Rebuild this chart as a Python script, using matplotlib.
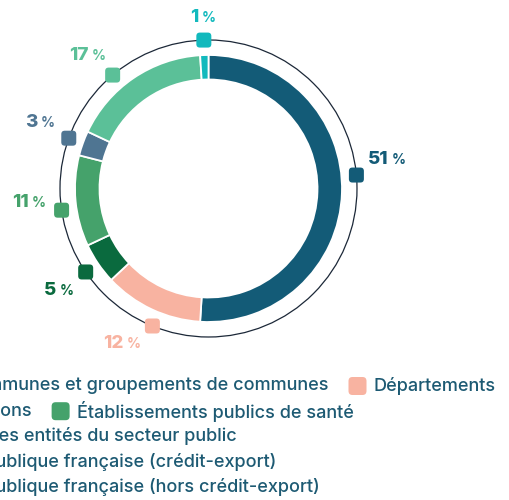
import matplotlib
matplotlib.use("Agg")
import matplotlib.pyplot as plt
from matplotlib.patches import Circle, FancyBboxPatch
from matplotlib.offsetbox import TextArea, HPacker, AnnotationBbox
import numpy as np

plt.rcParams["font.family"] = ["Inter", "DejaVu Sans"]

categories = [
    "Communes et groupements de communes",
    "Départements",
    "Régions",
    "Établissements publics de santé",
    "Autres entités du secteur public",
    "République française (crédit-export)",
    "République française (hors crédit-export)",
]
values = [51, 12, 5, 11, 3, 17, 1]
colors = ["#135b77", "#f8b3a1", "#0a6a3e", "#45a26b", "#4f7592", "#5bc098", "#12b9bd"]
legend_rows = [[0, 1], [2, 3], [4], [5], [6]]

W, H = 510, 500
fig = plt.figure(figsize=(W / 100, H / 100), dpi=100)
ax = fig.add_axes([0, 0, 1, 1])

cx, cy = 208.5, H - 188.5
r_out, ring_w = 133.5, 24.5
R = 148.5

ax.pie(values, colors=colors, startangle=90, counterclock=False, radius=r_out,
       center=(cx, cy), wedgeprops=dict(width=ring_w, edgecolor="white", linewidth=1.3))
ax.add_patch(Circle((cx, cy), R, fill=False, ec="#1c2838", lw=0.9, zorder=2))

marker_nudge = {0: -7, 1: -3, 3: -3, 5: -6}
label_nudge = {0: -11, 1: 4, 3: 1, 4: 1.5, 5: -8}

cum = np.cumsum(values)
total = float(sum(values))
for i, v in enumerate(values):
    mid = 360.0 * (cum[i] - v / 2.0) / total
    th = np.deg2rad(mid + marker_nudge.get(i, 0))
    mx, my = cx + R * np.sin(th), cy + R * np.cos(th)
    ax.add_patch(FancyBboxPatch((mx - 7.5, my - 7.5), 15, 15,
                                boxstyle="round,pad=0,rounding_size=3.5",
                                fc=colors[i], ec="none", zorder=4))
    tl = np.deg2rad(mid + label_nudge.get(i, 0))
    rl = 162.5 + 17 * abs(np.sin(tl)) + 8 * abs(np.cos(tl))
    lx, ly = cx + rl * np.sin(tl), cy + rl * np.cos(tl)
    num = TextArea(f"{v}", textprops=dict(color=colors[i], fontsize=13.5, fontweight="heavy"))
    pct = TextArea("%", textprops=dict(color=colors[i], fontsize=10, fontweight="bold"))
    box = HPacker(children=[num, pct], align="baseline", pad=0, sep=2.5)
    ax.add_artist(AnnotationBbox(box, (lx, ly), frameon=False, box_alignment=(0.5, 0.5),
                                 xycoords="data", zorder=5))

ax.set_xlim(0, W)
ax.set_ylim(0, H)
ax.set_aspect("equal")
ax.axis("off")

# legend (flow layout, left part clipped by figure edge as in the reference)
renderer = fig.canvas.get_renderer()
x0 = -63
for r, row in enumerate(legend_rows):
    x = x0
    yc = H - (386 + r * 25.2)
    for i in row:
        ax.add_patch(FancyBboxPatch((x, yc - 9), 18, 18, boxstyle="round,pad=0,rounding_size=4",
                                    fc=colors[i], ec="none", clip_on=False))
        t = ax.text(x + 25, yc, categories[i], va="center", ha="left",
                    color="#1d5a73", fontsize=13.0, fontweight="medium")
        w = t.get_window_extent(renderer).width
        x += 25 + w + 20

fig.savefig("out.png", dpi=100)
